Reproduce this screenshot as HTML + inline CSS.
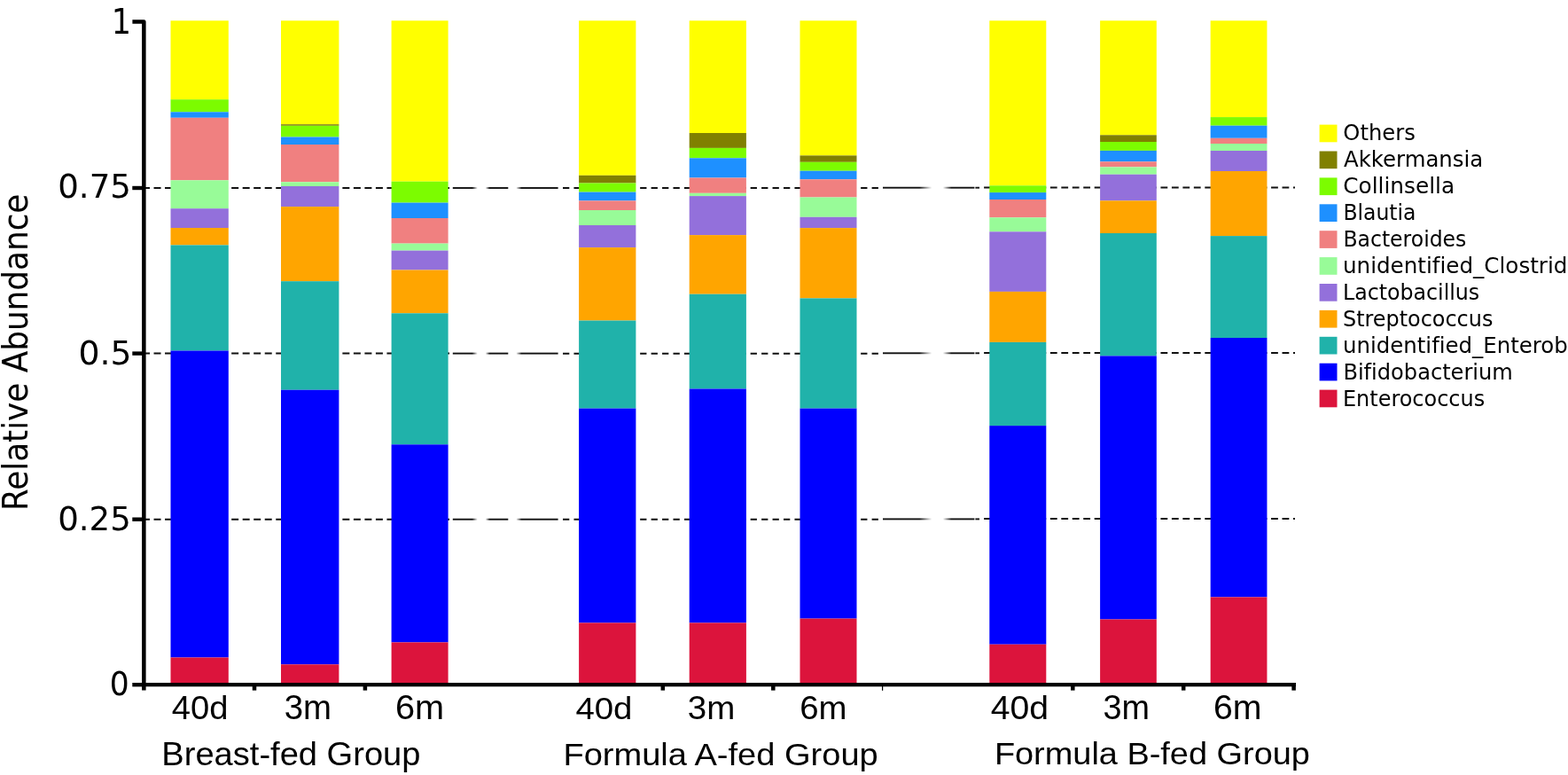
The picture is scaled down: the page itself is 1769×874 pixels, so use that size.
<!DOCTYPE html>
<html><head><meta charset="utf-8"><style>
html,body{margin:0;padding:0;background:#fff;overflow:hidden;}
svg{display:block;}
text{font-variant-ligatures:none;font-feature-settings:'liga' 0,'clig' 0;}
</style></head><body>
<svg width="1769" height="874" viewBox="0 0 1769 874">
<rect width="1769" height="874" fill="#fff"/>
<line x1="161.0" y1="212.0" x2="510" y2="212.0" stroke="#111" stroke-width="2" stroke-dasharray="8 4.52"/>
<linearGradient id="g1" gradientUnits="userSpaceOnUse" x1="510.8" y1="0" x2="538.8" y2="0"><stop offset="0.000" stop-color="#111" stop-opacity="1"/><stop offset="0.786" stop-color="#111" stop-opacity="1"/><stop offset="1.000" stop-color="#111" stop-opacity="0"/></linearGradient>
<rect x="510.8" y="211.05" width="28.00" height="1.9" fill="url(#g1)"/>
<linearGradient id="g2" gradientUnits="userSpaceOnUse" x1="547.8" y1="0" x2="573.3" y2="0"><stop offset="0.000" stop-color="#111" stop-opacity="0"/><stop offset="0.176" stop-color="#111" stop-opacity="1"/><stop offset="1.000" stop-color="#111" stop-opacity="1"/></linearGradient>
<rect x="547.8" y="211.05" width="25.50" height="1.9" fill="url(#g2)"/>
<linearGradient id="g3" gradientUnits="userSpaceOnUse" x1="582.3" y1="0" x2="629.6" y2="0"><stop offset="0.000" stop-color="#111" stop-opacity="0"/><stop offset="0.127" stop-color="#111" stop-opacity="1"/><stop offset="1.000" stop-color="#111" stop-opacity="1"/></linearGradient>
<rect x="582.3" y="211.05" width="47.30" height="1.9" fill="url(#g3)"/>
<line x1="635" y1="212.1" x2="996" y2="212.1" stroke="#111" stroke-width="2" stroke-dasharray="7.3 5.15"/>
<linearGradient id="g4" gradientUnits="userSpaceOnUse" x1="996" y1="0" x2="1051.3" y2="0"><stop offset="0.000" stop-color="#111" stop-opacity="1"/><stop offset="0.747" stop-color="#111" stop-opacity="1"/><stop offset="1.000" stop-color="#111" stop-opacity="0"/></linearGradient>
<rect x="996" y="210.75" width="55.30" height="1.9" fill="url(#g4)"/>
<linearGradient id="g5" gradientUnits="userSpaceOnUse" x1="1063.8" y1="0" x2="1099.4" y2="0"><stop offset="0.000" stop-color="#111" stop-opacity="0"/><stop offset="0.267" stop-color="#111" stop-opacity="1"/><stop offset="1.000" stop-color="#111" stop-opacity="1"/></linearGradient>
<rect x="1063.8" y="210.75" width="35.60" height="1.9" fill="url(#g5)"/>
<rect x="1100.4" y="210.75" width="4.60" height="1.9" fill="#111"/>
<line x1="1110.1" y1="211.4" x2="1461" y2="211.4" stroke="#111" stroke-width="2" stroke-dasharray="7.8 4.66"/>
<line x1="161.0" y1="398.6" x2="510" y2="398.6" stroke="#111" stroke-width="2" stroke-dasharray="8 4.52"/>
<linearGradient id="g6" gradientUnits="userSpaceOnUse" x1="510.8" y1="0" x2="538.8" y2="0"><stop offset="0.000" stop-color="#111" stop-opacity="1"/><stop offset="0.786" stop-color="#111" stop-opacity="1"/><stop offset="1.000" stop-color="#111" stop-opacity="0"/></linearGradient>
<rect x="510.8" y="397.65" width="28.00" height="1.9" fill="url(#g6)"/>
<linearGradient id="g7" gradientUnits="userSpaceOnUse" x1="547.8" y1="0" x2="573.3" y2="0"><stop offset="0.000" stop-color="#111" stop-opacity="0"/><stop offset="0.176" stop-color="#111" stop-opacity="1"/><stop offset="1.000" stop-color="#111" stop-opacity="1"/></linearGradient>
<rect x="547.8" y="397.65" width="25.50" height="1.9" fill="url(#g7)"/>
<linearGradient id="g8" gradientUnits="userSpaceOnUse" x1="582.3" y1="0" x2="629.6" y2="0"><stop offset="0.000" stop-color="#111" stop-opacity="0"/><stop offset="0.127" stop-color="#111" stop-opacity="1"/><stop offset="1.000" stop-color="#111" stop-opacity="1"/></linearGradient>
<rect x="582.3" y="397.65" width="47.30" height="1.9" fill="url(#g8)"/>
<line x1="635" y1="398.70000000000005" x2="996" y2="398.70000000000005" stroke="#111" stroke-width="2" stroke-dasharray="7.3 5.15"/>
<linearGradient id="g9" gradientUnits="userSpaceOnUse" x1="996" y1="0" x2="1051.3" y2="0"><stop offset="0.000" stop-color="#111" stop-opacity="1"/><stop offset="0.747" stop-color="#111" stop-opacity="1"/><stop offset="1.000" stop-color="#111" stop-opacity="0"/></linearGradient>
<rect x="996" y="397.35" width="55.30" height="1.9" fill="url(#g9)"/>
<linearGradient id="g10" gradientUnits="userSpaceOnUse" x1="1063.8" y1="0" x2="1099.4" y2="0"><stop offset="0.000" stop-color="#111" stop-opacity="0"/><stop offset="0.267" stop-color="#111" stop-opacity="1"/><stop offset="1.000" stop-color="#111" stop-opacity="1"/></linearGradient>
<rect x="1063.8" y="397.35" width="35.60" height="1.9" fill="url(#g10)"/>
<rect x="1100.4" y="397.35" width="4.60" height="1.9" fill="#111"/>
<line x1="1110.1" y1="398.0" x2="1461" y2="398.0" stroke="#111" stroke-width="2" stroke-dasharray="7.8 4.66"/>
<line x1="161.0" y1="585.7" x2="510" y2="585.7" stroke="#111" stroke-width="2" stroke-dasharray="8 4.52"/>
<linearGradient id="g11" gradientUnits="userSpaceOnUse" x1="510.8" y1="0" x2="538.8" y2="0"><stop offset="0.000" stop-color="#111" stop-opacity="1"/><stop offset="0.786" stop-color="#111" stop-opacity="1"/><stop offset="1.000" stop-color="#111" stop-opacity="0"/></linearGradient>
<rect x="510.8" y="584.75" width="28.00" height="1.9" fill="url(#g11)"/>
<linearGradient id="g12" gradientUnits="userSpaceOnUse" x1="547.8" y1="0" x2="573.3" y2="0"><stop offset="0.000" stop-color="#111" stop-opacity="0"/><stop offset="0.176" stop-color="#111" stop-opacity="1"/><stop offset="1.000" stop-color="#111" stop-opacity="1"/></linearGradient>
<rect x="547.8" y="584.75" width="25.50" height="1.9" fill="url(#g12)"/>
<linearGradient id="g13" gradientUnits="userSpaceOnUse" x1="582.3" y1="0" x2="629.6" y2="0"><stop offset="0.000" stop-color="#111" stop-opacity="0"/><stop offset="0.127" stop-color="#111" stop-opacity="1"/><stop offset="1.000" stop-color="#111" stop-opacity="1"/></linearGradient>
<rect x="582.3" y="584.75" width="47.30" height="1.9" fill="url(#g13)"/>
<line x1="635" y1="585.8000000000001" x2="996" y2="585.8000000000001" stroke="#111" stroke-width="2" stroke-dasharray="7.3 5.15"/>
<linearGradient id="g14" gradientUnits="userSpaceOnUse" x1="996" y1="0" x2="1051.3" y2="0"><stop offset="0.000" stop-color="#111" stop-opacity="1"/><stop offset="0.747" stop-color="#111" stop-opacity="1"/><stop offset="1.000" stop-color="#111" stop-opacity="0"/></linearGradient>
<rect x="996" y="584.45" width="55.30" height="1.9" fill="url(#g14)"/>
<linearGradient id="g15" gradientUnits="userSpaceOnUse" x1="1063.8" y1="0" x2="1099.4" y2="0"><stop offset="0.000" stop-color="#111" stop-opacity="0"/><stop offset="0.267" stop-color="#111" stop-opacity="1"/><stop offset="1.000" stop-color="#111" stop-opacity="1"/></linearGradient>
<rect x="1063.8" y="584.45" width="35.60" height="1.9" fill="url(#g15)"/>
<rect x="1100.4" y="584.45" width="4.60" height="1.9" fill="#111"/>
<line x1="1110.1" y1="585.1" x2="1461" y2="585.1" stroke="#111" stroke-width="2" stroke-dasharray="7.8 4.66"/>
<rect x="192.5" y="23.3" width="65.3" height="88.90" fill="#FFFF00"/>
<rect x="192.5" y="112.2" width="65.3" height="14.10" fill="#7CFC00"/>
<rect x="192.5" y="126.3" width="65.3" height="6.50" fill="#1E90FF"/>
<rect x="192.5" y="132.8" width="65.3" height="70.50" fill="#F08080"/>
<rect x="192.5" y="203.3" width="65.3" height="31.90" fill="#98FB98"/>
<rect x="192.5" y="235.2" width="65.3" height="21.80" fill="#9370DB"/>
<rect x="192.5" y="257.0" width="65.3" height="19.40" fill="#FFA500"/>
<rect x="192.5" y="276.4" width="65.3" height="119.10" fill="#20B2AA"/>
<rect x="192.5" y="395.5" width="65.3" height="346.00" fill="#0000FF"/>
<rect x="192.5" y="741.5" width="65.3" height="29.50" fill="#DC143C"/>
<rect x="317.0" y="23.3" width="65.4" height="116.90" fill="#FFFF00"/>
<rect x="317.0" y="140.2" width="65.4" height="1.60" fill="#808000"/>
<rect x="317.0" y="141.8" width="65.4" height="12.70" fill="#7CFC00"/>
<rect x="317.0" y="154.5" width="65.4" height="8.50" fill="#1E90FF"/>
<rect x="317.0" y="163.0" width="65.4" height="42.30" fill="#F08080"/>
<rect x="317.0" y="205.3" width="65.4" height="4.70" fill="#98FB98"/>
<rect x="317.0" y="210.0" width="65.4" height="23.10" fill="#9370DB"/>
<rect x="317.0" y="233.1" width="65.4" height="84.10" fill="#FFA500"/>
<rect x="317.0" y="317.2" width="65.4" height="122.50" fill="#20B2AA"/>
<rect x="317.0" y="439.7" width="65.4" height="309.60" fill="#0000FF"/>
<rect x="317.0" y="749.3" width="65.4" height="21.70" fill="#DC143C"/>
<rect x="441.6" y="23.3" width="64.0" height="181.40" fill="#FFFF00"/>
<rect x="441.6" y="204.7" width="64.0" height="23.90" fill="#7CFC00"/>
<rect x="441.6" y="228.6" width="64.0" height="17.40" fill="#1E90FF"/>
<rect x="441.6" y="246.0" width="64.0" height="28.60" fill="#F08080"/>
<rect x="441.6" y="274.6" width="64.0" height="8.00" fill="#98FB98"/>
<rect x="441.6" y="282.6" width="64.0" height="21.90" fill="#9370DB"/>
<rect x="441.6" y="304.5" width="64.0" height="48.80" fill="#FFA500"/>
<rect x="441.6" y="353.3" width="64.0" height="148.00" fill="#20B2AA"/>
<rect x="441.6" y="501.3" width="64.0" height="223.10" fill="#0000FF"/>
<rect x="441.6" y="724.4" width="64.0" height="46.60" fill="#DC143C"/>
<rect x="653.1" y="23.3" width="64.3" height="174.50" fill="#FFFF00"/>
<rect x="653.1" y="197.8" width="64.3" height="8.70" fill="#808000"/>
<rect x="653.1" y="206.5" width="64.3" height="10.10" fill="#7CFC00"/>
<rect x="653.1" y="216.6" width="64.3" height="9.80" fill="#1E90FF"/>
<rect x="653.1" y="226.4" width="64.3" height="10.60" fill="#F08080"/>
<rect x="653.1" y="237.0" width="64.3" height="17.00" fill="#98FB98"/>
<rect x="653.1" y="254.0" width="64.3" height="25.10" fill="#9370DB"/>
<rect x="653.1" y="279.1" width="64.3" height="82.40" fill="#FFA500"/>
<rect x="653.1" y="361.5" width="64.3" height="99.10" fill="#20B2AA"/>
<rect x="653.1" y="460.6" width="64.3" height="241.80" fill="#0000FF"/>
<rect x="653.1" y="702.4" width="64.3" height="68.60" fill="#DC143C"/>
<rect x="777.7" y="23.3" width="64.2" height="126.70" fill="#FFFF00"/>
<rect x="777.7" y="150.0" width="64.2" height="16.90" fill="#808000"/>
<rect x="777.7" y="166.9" width="64.2" height="11.40" fill="#7CFC00"/>
<rect x="777.7" y="178.3" width="64.2" height="22.20" fill="#1E90FF"/>
<rect x="777.7" y="200.5" width="64.2" height="17.30" fill="#F08080"/>
<rect x="777.7" y="217.8" width="64.2" height="3.30" fill="#98FB98"/>
<rect x="777.7" y="221.1" width="64.2" height="44.00" fill="#9370DB"/>
<rect x="777.7" y="265.1" width="64.2" height="66.60" fill="#FFA500"/>
<rect x="777.7" y="331.7" width="64.2" height="106.80" fill="#20B2AA"/>
<rect x="777.7" y="438.5" width="64.2" height="263.90" fill="#0000FF"/>
<rect x="777.7" y="702.4" width="64.2" height="68.60" fill="#DC143C"/>
<rect x="902.5" y="23.3" width="64.0" height="152.10" fill="#FFFF00"/>
<rect x="902.5" y="175.4" width="64.0" height="7.40" fill="#808000"/>
<rect x="902.5" y="182.8" width="64.0" height="9.90" fill="#7CFC00"/>
<rect x="902.5" y="192.7" width="64.0" height="9.60" fill="#1E90FF"/>
<rect x="902.5" y="202.3" width="64.0" height="20.20" fill="#F08080"/>
<rect x="902.5" y="222.5" width="64.0" height="22.30" fill="#98FB98"/>
<rect x="902.5" y="244.8" width="64.0" height="12.30" fill="#9370DB"/>
<rect x="902.5" y="257.1" width="64.0" height="79.30" fill="#FFA500"/>
<rect x="902.5" y="336.4" width="64.0" height="124.20" fill="#20B2AA"/>
<rect x="902.5" y="460.6" width="64.0" height="237.00" fill="#0000FF"/>
<rect x="902.5" y="697.6" width="64.0" height="73.40" fill="#DC143C"/>
<rect x="1116.3" y="23.3" width="64.0" height="186.00" fill="#FFFF00"/>
<rect x="1116.3" y="209.3" width="64.0" height="7.80" fill="#7CFC00"/>
<rect x="1116.3" y="217.1" width="64.0" height="7.90" fill="#1E90FF"/>
<rect x="1116.3" y="225.0" width="64.0" height="20.30" fill="#F08080"/>
<rect x="1116.3" y="245.3" width="64.0" height="16.00" fill="#98FB98"/>
<rect x="1116.3" y="261.3" width="64.0" height="67.60" fill="#9370DB"/>
<rect x="1116.3" y="328.9" width="64.0" height="57.00" fill="#FFA500"/>
<rect x="1116.3" y="385.9" width="64.0" height="94.20" fill="#20B2AA"/>
<rect x="1116.3" y="480.1" width="64.0" height="246.60" fill="#0000FF"/>
<rect x="1116.3" y="726.7" width="64.0" height="44.30" fill="#DC143C"/>
<rect x="1241.1" y="23.3" width="63.7" height="129.00" fill="#FFFF00"/>
<rect x="1241.1" y="152.3" width="63.7" height="7.70" fill="#808000"/>
<rect x="1241.1" y="160.0" width="63.7" height="9.90" fill="#7CFC00"/>
<rect x="1241.1" y="169.9" width="63.7" height="12.40" fill="#1E90FF"/>
<rect x="1241.1" y="182.3" width="63.7" height="6.10" fill="#F08080"/>
<rect x="1241.1" y="188.4" width="63.7" height="8.30" fill="#98FB98"/>
<rect x="1241.1" y="196.7" width="63.7" height="29.60" fill="#9370DB"/>
<rect x="1241.1" y="226.3" width="63.7" height="36.70" fill="#FFA500"/>
<rect x="1241.1" y="263.0" width="63.7" height="138.40" fill="#20B2AA"/>
<rect x="1241.1" y="401.4" width="63.7" height="297.10" fill="#0000FF"/>
<rect x="1241.1" y="698.5" width="63.7" height="72.50" fill="#DC143C"/>
<rect x="1365.65" y="23.3" width="63.8" height="108.80" fill="#FFFF00"/>
<rect x="1365.65" y="132.1" width="63.8" height="9.60" fill="#7CFC00"/>
<rect x="1365.65" y="141.7" width="63.8" height="14.10" fill="#1E90FF"/>
<rect x="1365.65" y="155.8" width="63.8" height="6.20" fill="#F08080"/>
<rect x="1365.65" y="162.0" width="63.8" height="8.00" fill="#98FB98"/>
<rect x="1365.65" y="170.0" width="63.8" height="23.00" fill="#9370DB"/>
<rect x="1365.65" y="193.0" width="63.8" height="73.10" fill="#FFA500"/>
<rect x="1365.65" y="266.1" width="63.8" height="114.90" fill="#20B2AA"/>
<rect x="1365.65" y="381.0" width="63.8" height="292.40" fill="#0000FF"/>
<rect x="1365.65" y="673.4" width="63.8" height="97.60" fill="#DC143C"/>
<path d="M149.4,24.45 H162.35 V778.5" fill="none" stroke="#000" stroke-width="4.5" stroke-linejoin="round"/>
<rect x="160" y="770" width="1302" height="4.3" fill="#000"/>
<rect x="149.3" y="209.8" width="12" height="4.4" fill="#000"/>
<rect x="149.3" y="396.40000000000003" width="12" height="4.4" fill="#000"/>
<rect x="149.3" y="583.5" width="12" height="4.4" fill="#000"/>
<rect x="149.3" y="770.0" width="12" height="4.4" fill="#000"/>
<rect x="284.75" y="772" width="4.5" height="6.6" fill="#000"/>
<rect x="409.65" y="772" width="4.5" height="6.6" fill="#000"/>
<rect x="745.55" y="772" width="4.5" height="6.6" fill="#000"/>
<rect x="870.05" y="772" width="4.5" height="6.6" fill="#000"/>
<rect x="1208.05" y="772" width="4.5" height="6.6" fill="#000"/>
<rect x="1332.95" y="772" width="4.5" height="6.6" fill="#000"/>
<rect x="1457.35" y="772" width="4.5" height="6.6" fill="#000"/>
<rect x="995" y="772" width="1.2" height="6.8" fill="#000"/>
<rect x="1488.6" y="140.6" width="19.9" height="19.7" fill="#FFFF00"/>
<rect x="1488.6" y="170.5" width="19.9" height="19.7" fill="#808000"/>
<rect x="1488.6" y="200.4" width="19.9" height="19.7" fill="#7CFC00"/>
<rect x="1488.6" y="230.3" width="19.9" height="19.7" fill="#1E90FF"/>
<rect x="1488.6" y="260.2" width="19.9" height="19.7" fill="#F08080"/>
<rect x="1488.6" y="290.1" width="19.9" height="19.7" fill="#98FB98"/>
<rect x="1488.6" y="320.0" width="19.9" height="19.7" fill="#9370DB"/>
<rect x="1488.6" y="349.9" width="19.9" height="19.7" fill="#FFA500"/>
<rect x="1488.6" y="379.8" width="19.9" height="19.7" fill="#20B2AA"/>
<rect x="1488.6" y="409.7" width="19.9" height="19.7" fill="#0000FF"/>
<rect x="1488.6" y="439.6" width="19.9" height="19.7" fill="#DC143C"/>
<text x="125.70" y="38.10" font-family="'DejaVu Sans', sans-serif" font-size="38.36" textLength="22.26" lengthAdjust="spacingAndGlyphs">1</text>
<text x="65.20" y="222.90" font-family="'DejaVu Sans', sans-serif" font-size="37.17" textLength="82.71" lengthAdjust="spacingAndGlyphs">0.75</text>
<text x="88.40" y="410.50" font-family="'DejaVu Sans', sans-serif" font-size="37.68" textLength="60.14" lengthAdjust="spacingAndGlyphs">0.5</text>
<text x="65.20" y="597.60" font-family="'DejaVu Sans', sans-serif" font-size="37.43" textLength="82.70" lengthAdjust="spacingAndGlyphs">0.25</text>
<text x="123.80" y="784.20" font-family="'DejaVu Sans', sans-serif" font-size="36.60" textLength="21.97" lengthAdjust="spacingAndGlyphs">0</text>
<text transform="translate(30.90,576.10) rotate(-90)" font-family="'DejaVu Sans', sans-serif" font-size="38.60" textLength="357.50" lengthAdjust="spacingAndGlyphs">Relative Abundance</text>
<text x="193.80" y="810.60" font-family="'Liberation Sans', Arial, sans-serif" font-size="36.25" textLength="63.65" lengthAdjust="spacingAndGlyphs">40d</text>
<text x="320.70" y="811.00" font-family="'Liberation Sans', Arial, sans-serif" font-size="37.90" textLength="53.30" lengthAdjust="spacingAndGlyphs">3m</text>
<text x="446.00" y="811.00" font-family="'Liberation Sans', Arial, sans-serif" font-size="37.90" textLength="55.15" lengthAdjust="spacingAndGlyphs">6m</text>
<text x="649.40" y="810.50" font-family="'Liberation Sans', Arial, sans-serif" font-size="35.72" textLength="64.07" lengthAdjust="spacingAndGlyphs">40d</text>
<text x="775.80" y="810.50" font-family="'Liberation Sans', Arial, sans-serif" font-size="37.09" textLength="53.53" lengthAdjust="spacingAndGlyphs">3m</text>
<text x="902.20" y="810.50" font-family="'Liberation Sans', Arial, sans-serif" font-size="37.09" textLength="53.32" lengthAdjust="spacingAndGlyphs">6m</text>
<text x="1117.70" y="810.50" font-family="'Liberation Sans', Arial, sans-serif" font-size="36.54" textLength="65.32" lengthAdjust="spacingAndGlyphs">40d</text>
<text x="1244.60" y="810.50" font-family="'Liberation Sans', Arial, sans-serif" font-size="37.94" textLength="52.46" lengthAdjust="spacingAndGlyphs">3m</text>
<text x="1368.90" y="810.50" font-family="'Liberation Sans', Arial, sans-serif" font-size="37.94" textLength="54.49" lengthAdjust="spacingAndGlyphs">6m</text>
<text x="182.30" y="863.00" font-family="'Liberation Sans', Arial, sans-serif" font-size="36.92" textLength="292.20" lengthAdjust="spacingAndGlyphs">Breast-fed Group</text>
<text x="635.40" y="862.50" font-family="'Liberation Sans', Arial, sans-serif" font-size="35.66" textLength="355.36" lengthAdjust="spacingAndGlyphs">Formula A-fed Group</text>
<text x="1121.90" y="861.90" font-family="'Liberation Sans', Arial, sans-serif" font-size="35.66" textLength="356.02" lengthAdjust="spacingAndGlyphs">Formula B-fed Group</text>
<text x="1515.30" y="158.30" font-family="'DejaVu Sans', sans-serif" font-size="24.80" textLength="81.48" lengthAdjust="spacingAndGlyphs">Others</text>
<text x="1516.10" y="188.25" font-family="'DejaVu Sans', sans-serif" font-size="24.80" textLength="157.05" lengthAdjust="spacingAndGlyphs">Akkermansia</text>
<text x="1515.30" y="218.20" font-family="'DejaVu Sans', sans-serif" font-size="24.80" textLength="125.83" lengthAdjust="spacingAndGlyphs">Collinsella</text>
<text x="1515.40" y="248.15" font-family="'DejaVu Sans', sans-serif" font-size="24.80" textLength="82.12" lengthAdjust="spacingAndGlyphs">Blautia</text>
<text x="1515.40" y="278.10" font-family="'DejaVu Sans', sans-serif" font-size="24.80" textLength="138.96" lengthAdjust="spacingAndGlyphs">Bacteroides</text>
<text x="1515.00" y="308.05" font-family="'DejaVu Sans', sans-serif" font-size="24.80" textLength="310.09" lengthAdjust="spacingAndGlyphs">unidentified_Clostridiales</text>
<text x="1515.00" y="338.00" font-family="'DejaVu Sans', sans-serif" font-size="24.80" textLength="154.17" lengthAdjust="spacingAndGlyphs">Lactobacillus</text>
<text x="1515.00" y="367.95" font-family="'DejaVu Sans', sans-serif" font-size="24.80" textLength="169.34" lengthAdjust="spacingAndGlyphs">Streptococcus</text>
<text x="1515.00" y="397.90" font-family="'DejaVu Sans', sans-serif" font-size="24.80" textLength="397.05" lengthAdjust="spacingAndGlyphs">unidentified_Enterobacteriaceae</text>
<text x="1515.40" y="427.85" font-family="'DejaVu Sans', sans-serif" font-size="24.80" textLength="191.38" lengthAdjust="spacingAndGlyphs">Bifidobacterium</text>
<text x="1515.00" y="457.80" font-family="'DejaVu Sans', sans-serif" font-size="24.80" textLength="160.12" lengthAdjust="spacingAndGlyphs">Enterococcus</text>
</svg>
</body></html>
